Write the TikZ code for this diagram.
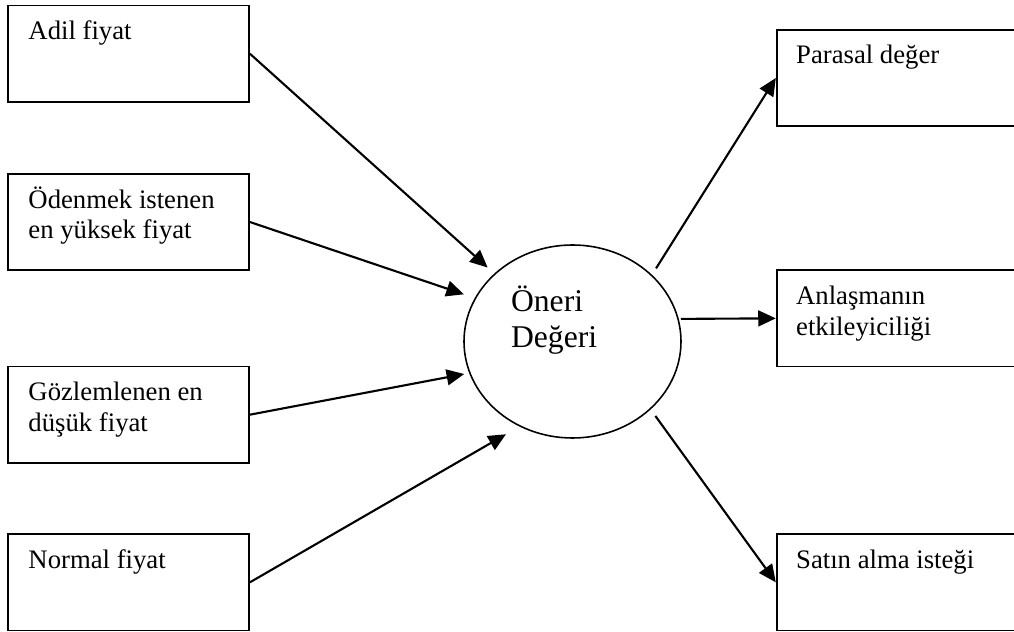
\documentclass[tikz,border=0pt]{standalone}
\usepackage{fontspec}
\setmainfont{Liberation Serif}
\usetikzlibrary{arrows.meta,shapes.geometric}
\tikzset{%
  kutu/.style={draw, line width=1pt, minimum width=4.814cm, minimum height=1.926cm, inner sep=0pt},%
  sagkutu/.style={kutu, minimum width=6cm},%
  yazi/.style={anchor=base west, inner sep=0pt, align=left, font=\fontsize{15.2}{17.4}\selectfont},%
  ok/.style={line width=1.2pt, -{Triangle[length=10pt, width=9pt]}},%
}

\begin{document}
\begin{tikzpicture}%
\useasboundingbox (0,0) rectangle (20.28,12.64);%
\clip (0,0) rectangle (20.28,12.64);%
% sol kutular
\node[kutu] (adil) at (2.573, 11.566) {};%
\node[yazi] (adilyazi) at ([shift={(0.414,-0.7)}]adil.north west) {Adil fiyat};%
\node[kutu] (yuksek) at (2.573, 8.200) {};%
\node[yazi] (yuksekyazi) at ([shift={(0.414,-1.314)}]yuksek.north west) {Ödenmek istenen\\en yüksek fiyat};%
\node[kutu] (dusuk) at (2.573, 4.346) {};%
\node[yazi] (dusukyazi) at ([shift={(0.414,-1.314)}]dusuk.north west) {Gözlemlenen en\\düşük fiyat};%
\node[kutu] (normal) at (2.573, 0.993) {};%
\node[yazi] (normalyazi) at ([shift={(0.414,-0.7)}]normal.north west) {Normal fiyat};%
% orta
\node[draw, ellipse, line width=0.9pt, minimum width=4.34cm, minimum height=3.86cm, inner sep=0pt] (oneri) at (11.45, 5.81) {};%
\node[yazi, font=\fontsize{18}{21}\selectfont] (oneriyazi) at ([shift={(-1.236,-0.13)}]oneri.center) {Öneri\\Değeri};%
% sag kutular
\node[sagkutu] (parasal) at (18.534, 11.080) {};%
\node[yazi] (parasalyazi) at ([shift={(0.4,-0.7)}]parasal.north west) {Parasal değer};%
\node[sagkutu] (anlasma) at (18.534, 6.273) {};%
\node[yazi] (anlasmayazi) at ([shift={(0.4,-1.314)}]anlasma.north west) {Anlaşmanın\\etkileyiciliği};%
\node[sagkutu] (satin) at (18.534, 0.993) {};%
\node[yazi] (satinyazi) at ([shift={(0.4,-0.7)}]satin.north west) {Satın alma isteği};%
% oklar
\draw[ok, shorten >=0.18cm] (adil.east) -- (oneri.139);%
\draw[ok, shorten >=0.23cm] (yuksek.east) -- (oneri.156);%
\draw[ok, shorten >=0.10cm] (dusuk.east) -- (oneri.197);%
\draw[ok, shorten >=0.31cm] (normal.east) -- (oneri.238);%
\draw[ok, shorten <=0.15cm] (oneri.40) -- (parasal.west);%
\draw[ok, shorten <=0.04cm] (oneri.12) -- (anlasma.west);%
\draw[ok, shorten <=0.16cm] (oneri.319) -- (satin.west);%
\end{tikzpicture}
\end{document}
